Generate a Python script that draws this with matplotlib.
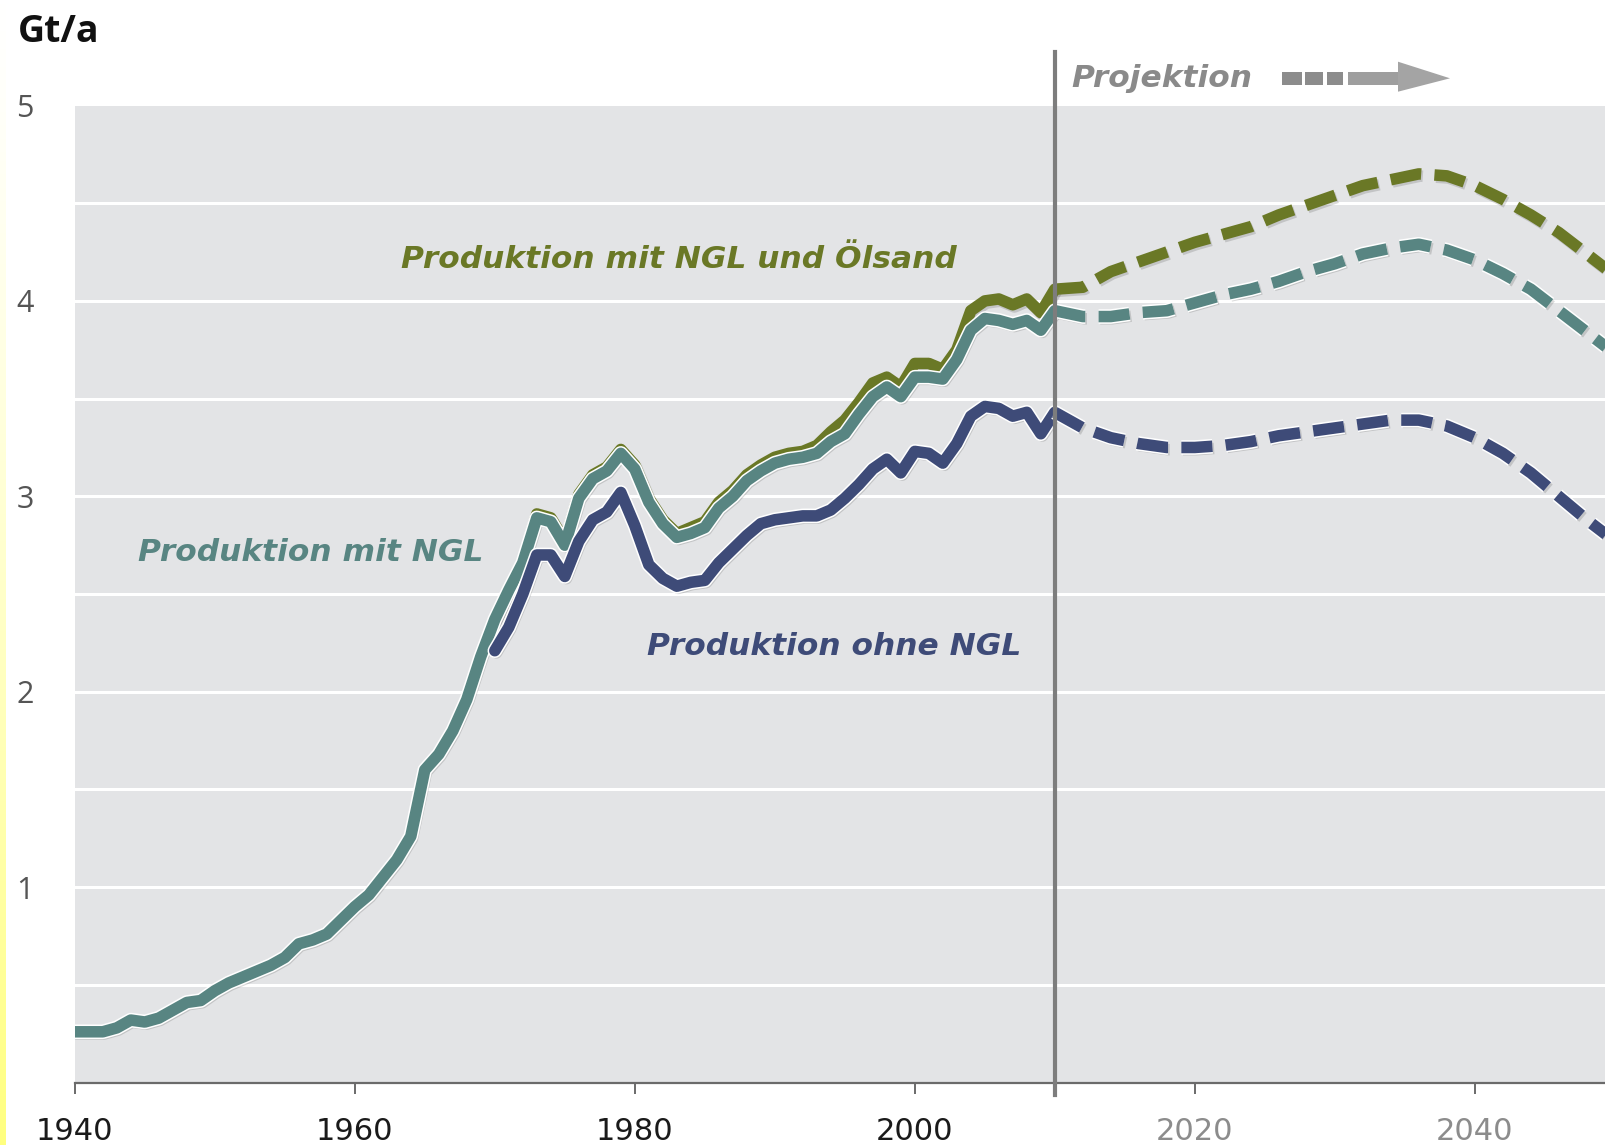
"""Oil production history and projection (Gt/a), with and without NGL / oil sand."""
import numpy as np
import matplotlib.pyplot as plt
import matplotlib.patheffects as pe
from matplotlib.patches import Rectangle, Polygon

# --- data -------------------------------------------------------------
years_teal = np.arange(1940, 2011)
teal_hist = [0.26, 0.26, 0.26, 0.28, 0.32, 0.31, 0.33, 0.37, 0.41, 0.42,   # 1940-49
             0.47, 0.51, 0.54, 0.57, 0.60, 0.64, 0.71, 0.73, 0.76, 0.83,   # 1950-59
             0.90, 0.96, 1.05, 1.14, 1.26, 1.60, 1.68, 1.80, 1.96, 2.18,   # 1960-69
             2.37, 2.52, 2.66, 2.89, 2.87, 2.75, 2.99, 3.09, 3.13, 3.22,   # 1970-79
             3.14, 2.97, 2.86, 2.79, 2.81, 2.84, 2.94, 3.00, 3.08, 3.13,   # 1980-89
             3.17, 3.19, 3.20, 3.22, 3.28, 3.32, 3.42, 3.51, 3.56, 3.51,   # 1990-99
             3.61, 3.61, 3.60, 3.70, 3.85, 3.91, 3.90, 3.88, 3.90, 3.85,   # 2000-09
             3.95]

years_1970 = np.arange(1970, 2011)
olive_hist = [2.37, 2.52, 2.67, 2.91, 2.89, 2.77, 3.01, 3.11, 3.15, 3.24,
              3.16, 2.99, 2.88, 2.81, 2.84, 2.87, 2.97, 3.03, 3.11, 3.16,
              3.20, 3.22, 3.23, 3.26, 3.33, 3.39, 3.48, 3.58, 3.61, 3.56,
              3.68, 3.68, 3.65, 3.75, 3.95, 4.00, 4.01, 3.98, 4.01, 3.94,
              4.06]
navy_hist = [2.21, 2.33, 2.50, 2.70, 2.70, 2.59, 2.77, 2.88, 2.92, 3.02,
             2.85, 2.65, 2.58, 2.54, 2.56, 2.57, 2.66, 2.73, 2.80, 2.86,
             2.88, 2.89, 2.90, 2.90, 2.93, 2.99, 3.06, 3.14, 3.19, 3.12,
             3.23, 3.22, 3.17, 3.27, 3.41, 3.46, 3.45, 3.41, 3.43, 3.32,
             3.43]

years_proj = np.arange(2010, 2051, 2)
olive_proj = [4.06, 4.07, 4.15, 4.20, 4.25, 4.30, 4.34, 4.38, 4.44, 4.49,
              4.54, 4.59, 4.62, 4.65, 4.64, 4.59, 4.52, 4.44, 4.35, 4.24, 4.13]
teal_proj = [3.95, 3.92, 3.92, 3.94, 3.95, 3.99, 4.03, 4.06, 4.10, 4.15,
             4.19, 4.24, 4.27, 4.29, 4.26, 4.21, 4.14, 4.06, 3.95, 3.84, 3.73]
navy_proj = [3.43, 3.35, 3.30, 3.27, 3.25, 3.25, 3.26, 3.28, 3.31, 3.33,
             3.35, 3.37, 3.39, 3.39, 3.36, 3.30, 3.22, 3.12, 3.00, 2.88, 2.77]

xticks = [1940, 1960, 1980, 2000, 2020, 2040]
yticks = [1, 2, 3, 4, 5]

OLIVE = '#6a7826'
TEAL = '#588582'
NAVY = '#3e4b78'
GREY = '#8a8a8a'

# --- figure -----------------------------------------------------------
W, H = 1606, 1145
fig = plt.figure(figsize=(W / 100, H / 100), dpi=100)
fig.patch.set_facecolor('white')

# faint yellow strip at the left edge
sax = fig.add_axes([0, 0, 6 / W, 1])
grad = np.linspace(0, 1, 256)[:, None] ** 1.3
rgba = np.ones((256, 1, 4))
rgba[:, 0, 2] = 1 - 0.5 * grad[:, 0]
sax.imshow(rgba, aspect='auto', origin='upper')
sax.axis('off')

left, right, top, bottom = 74.8, W, 105.5, 1082.6
ax = fig.add_axes([left / W, 1 - bottom / H, (right - left) / W, (bottom - top) / H])
ax.set_facecolor('#e3e4e6')
ax.set_xlim(1940, 1940 + (right - left) / 14.0)
ax.set_ylim(0, 5)

for y in np.arange(0.5, 5.0, 0.5):
    ax.axhline(y, color='white', lw=2.2, zorder=1)

for s in ['top', 'right', 'left']:
    ax.spines[s].set_visible(False)
ax.spines['bottom'].set_color('#6a6a6a')
ax.spines['bottom'].set_linewidth(1.6)

ax.set_xticks(xticks)
ax.set_xticklabels([str(t) for t in xticks], family=['Liberation Sans Narrow', 'DejaVu Sans'], fontsize=22)
for lab, t in zip(ax.get_xticklabels(), xticks):
    lab.set_color('#1a1a1a' if t <= 2000 else '#8c8c8c')
ax.tick_params(axis='x', length=8, width=1.4, color='#6a6a6a', pad=17)

ax.set_yticks(yticks)
ax.set_yticklabels([str(t) for t in yticks], family=['Open Sans', 'DejaVu Sans'], fontsize=22, color='#555555')
ax.tick_params(axis='y', length=0, pad=42)
for lab in ax.get_yticklabels():
    lab.set_horizontalalignment('left')

LW = 8.3
shadow = pe.SimpleLineShadow(offset=(1.2, -1.6), shadow_color='#333333', alpha=0.18)
outline = [shadow, pe.Stroke(linewidth=LW + 2.2, foreground='white'), pe.Normal()]
plain = [shadow, pe.Normal()]

def draw(x, y, color, effects, dashed=False):
    kw = dict(color=color, lw=LW, zorder=3, path_effects=effects,
              solid_joinstyle='round', solid_capstyle='round')
    if dashed:
        kw.update(dashes=(2.7, 1.15), dash_capstyle='butt')
    ax.plot(x, y, **kw)

draw(years_1970, olive_hist, OLIVE, plain)
draw(years_teal, teal_hist, TEAL, outline)
draw(years_1970, navy_hist, NAVY, outline)
draw(years_proj, olive_proj, OLIVE, plain, dashed=True)
draw(years_proj, teal_proj, TEAL, outline, dashed=True)
draw(years_proj, navy_proj, NAVY, outline, dashed=True)

# projection boundary
ax.axvline(2010, ymin=-12.4 / (bottom - top), ymax=1 + (top - 52) / (bottom - top),
           color='#7d7d7d', lw=3.0, zorder=4, clip_on=False)

lab_font = dict(fontsize=22.5, fontweight='bold', fontstyle='italic', va='baseline', ha='left')
ax.text(1963.3, 4.17, 'Produktion mit NGL und Ölsand', color=OLIVE, **lab_font)
ax.text(1944.5, 2.67, 'Produktion mit NGL', color=TEAL, **lab_font)
ax.text(1980.9, 2.19, 'Produktion ohne NGL', color=NAVY, **lab_font)
ax.text(2011.2, 5.095, 'Projektion', color=GREY, clip_on=False, **lab_font)

# projection arrow (figure pixels)
def fx(px):
    return px / W

def fy(py):
    return 1 - py / H

for x0, x1 in [(1281.7, 1301.7), (1305.0, 1323.3), (1326.7, 1343.3)]:
    fig.patches.append(Rectangle((fx(x0), fy(85)), fx(x1) - fx(x0), fy(71.7) - fy(85),
                                 transform=fig.transFigure, color='#8c8c8c', lw=0))
fig.patches.append(Rectangle((fx(1348.3), fy(85)), fx(1400) - fx(1348.3), fy(71.7) - fy(85),
                             transform=fig.transFigure, color='#9e9e9e', lw=0))
fig.patches.append(Polygon([(fx(1398), fy(61.7)), (fx(1450), fy(78.3)), (fx(1398), fy(91.7))],
                           closed=True, transform=fig.transFigure, color='#a4a4a4', lw=0))

fig.text(18 / W, fy(41.7), 'Gt/a', family=['Open Sans', 'DejaVu Sans'], fontweight='bold',
         fontsize=27, color='#111111', va='baseline', ha='left')

plt.savefig('out.png', dpi=100, facecolor='white')
